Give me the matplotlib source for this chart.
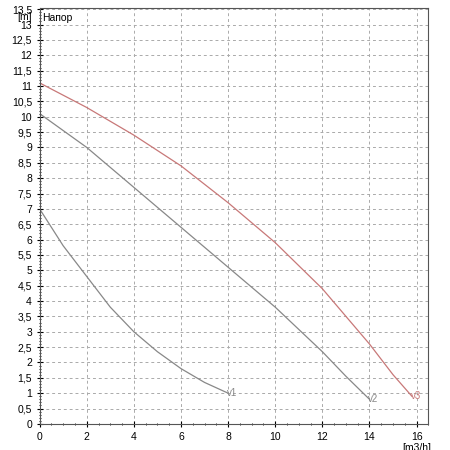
import matplotlib
matplotlib.use("Agg")
import matplotlib.pyplot as plt
from matplotlib.ticker import MultipleLocator, FuncFormatter

plt.rcParams['font.family'] = ['Liberation Sans', 'DejaVu Sans']

v1_x = [0, 1, 2, 3, 4, 5, 6, 7, 8]
v1_y = [7.0, 5.8, 4.8, 3.8, 3.0, 2.35, 1.8, 1.35, 1.0]
v2_x = [0, 2, 4, 6, 8, 10, 12, 13, 14]
v2_y = [10.1, 9.0, 7.7, 6.4, 5.1, 3.8, 2.35, 1.55, 0.8]
v3_x = [0, 2, 4, 6, 8, 10, 12, 14, 15, 15.8]
v3_y = [11.1, 10.3, 9.4, 8.4, 7.2, 5.9, 4.4, 2.6, 1.6, 0.9]
curves = [("v1", v1_x, v1_y, "#888888"), ("v2", v2_x, v2_y, "#888888"), ("v3", v3_x, v3_y, "#c87878")]

fig = plt.figure(figsize=(4.5, 4.5), dpi=100)
ax = fig.add_axes([0.088, 0.058, 0.864, 0.925])
for name, xs, ys, c in curves:
    ax.plot(xs, ys, color=c, lw=0.9)
    ax.text(xs[-1] - 0.05, ys[-1], name, color=c, fontsize=7, va='center', ha='left')

ax.set_xlim(0, 16.5)
ax.set_ylim(0, 13.55)
ax.xaxis.set_major_locator(MultipleLocator(2))
ax.xaxis.set_minor_locator(MultipleLocator(0.5))
ax.yaxis.set_major_locator(MultipleLocator(0.5))
ax.yaxis.set_minor_locator(MultipleLocator(0.1))
fmt = FuncFormatter(lambda v, p: (f"{v:g}").replace('.', ','))
ax.yaxis.set_major_formatter(fmt)
ax.xaxis.set_major_formatter(FuncFormatter(lambda v, p: f"{v:g}"))
ax.grid(True, which='major', ls=(0, (3, 3)), color='#aaaaaa', lw=0.7)
ax.tick_params(labelsize=7.5, length=4, direction='inout')
ax.tick_params(which='minor', length=2, direction='inout')
for s in ax.spines.values():
    s.set_color('#555555')
ax.text(0.1, 13.2, "Напор", fontsize=7.5, va='center')
ax.text(-0.02, 13.25, "[m]", fontsize=7.5, ha='right', va='center', transform=ax.get_yaxis_transform())
ax.text(16.0, -0.8, "[m3/h]", fontsize=7.5, ha='center', va='center')
fig.savefig("out.png", dpi=100)
